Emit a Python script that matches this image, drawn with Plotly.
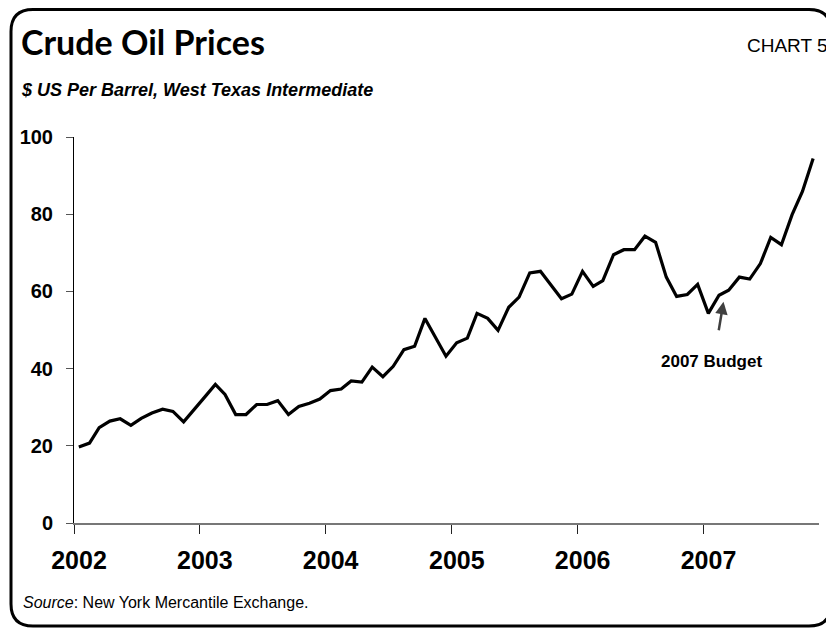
import plotly.graph_objects as go

# WTI monthly average, $US per barrel
prices_2002 = [19.7, 20.7, 24.7, 26.4, 27.0, 25.3, 27.1, 28.5, 29.5, 28.9, 26.2, 29.2]
prices_2003 = [32.6, 35.9, 33.3, 28.1, 28.1, 30.7, 30.7, 31.7, 28.1, 30.2, 31.0, 32.1]
prices_2004 = [34.3, 34.7, 36.8, 36.5, 40.4, 37.9, 40.6, 44.9, 45.8, 53.0, 48.1, 43.2]
prices_2005 = [46.7, 47.9, 54.3, 53.0, 49.9, 55.9, 58.5, 64.8, 65.2, 61.8, 58.1, 59.3]
prices_2006 = [65.2, 61.3, 62.8, 69.5, 70.8, 70.8, 74.3, 72.7, 63.7, 58.7, 59.2, 61.8]
prices_2007 = [54.3, 59.0, 60.3, 63.7, 63.2, 67.2, 74.0, 72.1, 79.9, 85.9, 94.4]

years = ["2002", "2003", "2004", "2005", "2006", "2007"]
y_ticks = [0, 20, 40, 60, 80, 100]

budget_date = "2007-02-28"
budget_value = 57.3

NARROW = "Liberation Sans Narrow, Arial Narrow, Liberation Sans, Arial, sans-serif"
TITLE_FONT = "Lato, Open Sans, sans-serif"

# the page body has an 8px margin, so the figure is a bit smaller than the window
OFF = 8
W, H = 834 - OFF, 631 - OFF
L, R, T, B = 74 - OFF, 15, 137 - OFF, 108


# page pixel -> paper coordinates
def px(x):
    return (x - OFF - L) / (W - L - R)


def py(y):
    return (H - B - (y - OFF)) / (H - T - B)


all_prices = prices_2002 + prices_2003 + prices_2004 + prices_2005 + prices_2006 + prices_2007
dates = []
for yr, arr in zip(years, [prices_2002, prices_2003, prices_2004, prices_2005, prices_2006, prices_2007]):
    for m in range(len(arr)):
        dates.append(f"{yr}-{m + 1:02d}-15")

fig = go.Figure()
fig.add_trace(go.Scatter(
    x=dates, y=all_prices, mode="lines",
    line=dict(color="black", width=3.2),
    showlegend=False, hoverinfo="skip"
))

# ---------------- axes ----------------
fig.update_xaxes(
    type="date",
    range=["2002-01-01", "2007-12-02"],
    tickvals=[f"{y}-01-01" for y in years],
    ticktext=years,
    ticks="outside", ticklen=9, tickwidth=1, tickcolor="#222",
    showline=True, linecolor="#777", linewidth=2,
    showgrid=False, zeroline=False,
    tickfont=dict(family=NARROW, size=25, color="black", weight="bold"),
    ticklabelstandoff=5, ticklabelshift=5,
)
fig.update_yaxes(
    range=[0, 100],
    tickvals=y_ticks,
    ticks="outside", ticklen=7, tickwidth=1, tickcolor="#555",
    showline=True, linecolor="black", linewidth=1,
    showgrid=False, zeroline=False,
    tickfont=dict(family=NARROW, size=20, color="black", weight="bold"),
    ticklabelstandoff=9,
)

# ---------------- frame (rounded box) ----------------
x0, y0, x1, y1, r = 11, 9.5, 831, 626, 22
path = (
    f"M {px(x0 + r)},{py(y0)} L {px(x1 - r)},{py(y0)} "
    f"Q {px(x1)},{py(y0)} {px(x1)},{py(y0 + r)} "
    f"L {px(x1)},{py(y1 - r)} Q {px(x1)},{py(y1)} {px(x1 - r)},{py(y1)} "
    f"L {px(x0 + r)},{py(y1)} Q {px(x0)},{py(y1)} {px(x0)},{py(y1 - r)} "
    f"L {px(x0)},{py(y0 + r)} Q {px(x0)},{py(y0)} {px(x0 + r)},{py(y0)} Z"
)
fig.add_shape(type="path", path=path, xref="paper", yref="paper",
              line=dict(color="black", width=3), layer="above")

# ---------------- texts ----------------
fig.add_annotation(
    text="Crude Oil Prices", xref="paper", yref="paper",
    x=px(19), y=py(41), xanchor="left", yanchor="middle", showarrow=False,
    font=dict(family=TITLE_FONT, size=34, color="black", weight="bold"),
)
fig.add_annotation(
    text="CHART 5", xref="paper", yref="paper",
    x=px(830), y=py(45), xanchor="right", yanchor="middle", showarrow=False,
    font=dict(family=NARROW, size=19, color="black"),
)
fig.add_annotation(
    text="<i>$ US Per Barrel, West Texas Intermediate</i>", xref="paper", yref="paper",
    x=px(19), y=py(90), xanchor="left", yanchor="middle", showarrow=False,
    font=dict(family=NARROW, size=18, color="black", weight="bold"),
)
fig.add_annotation(
    text="<i>Source</i>: New York Mercantile Exchange.", xref="paper", yref="paper",
    x=px(21), y=py(602), xanchor="left", yanchor="middle", showarrow=False,
    font=dict(family=NARROW, size=16, color="black"),
)

# 2007 Budget marker
fig.add_annotation(
    x=budget_date, y=budget_value, xref="x", yref="y",
    text="", showarrow=True, arrowhead=2, arrowsize=1.0, arrowwidth=2.5,
    arrowcolor="#404040", ax=-5, ay=30,
)
fig.add_annotation(
    x=budget_date, y=budget_value, xref="x", yref="y",
    text="2007 Budget", showarrow=False, xshift=-12, yshift=-60,
    font=dict(family=NARROW, size=17, color="black", weight="bold"),
)

fig.update_layout(
    width=W, height=H,
    margin=dict(l=L, r=R, t=T, b=B),
    plot_bgcolor="white", paper_bgcolor="white",
)

fig.write_html("out.html")
